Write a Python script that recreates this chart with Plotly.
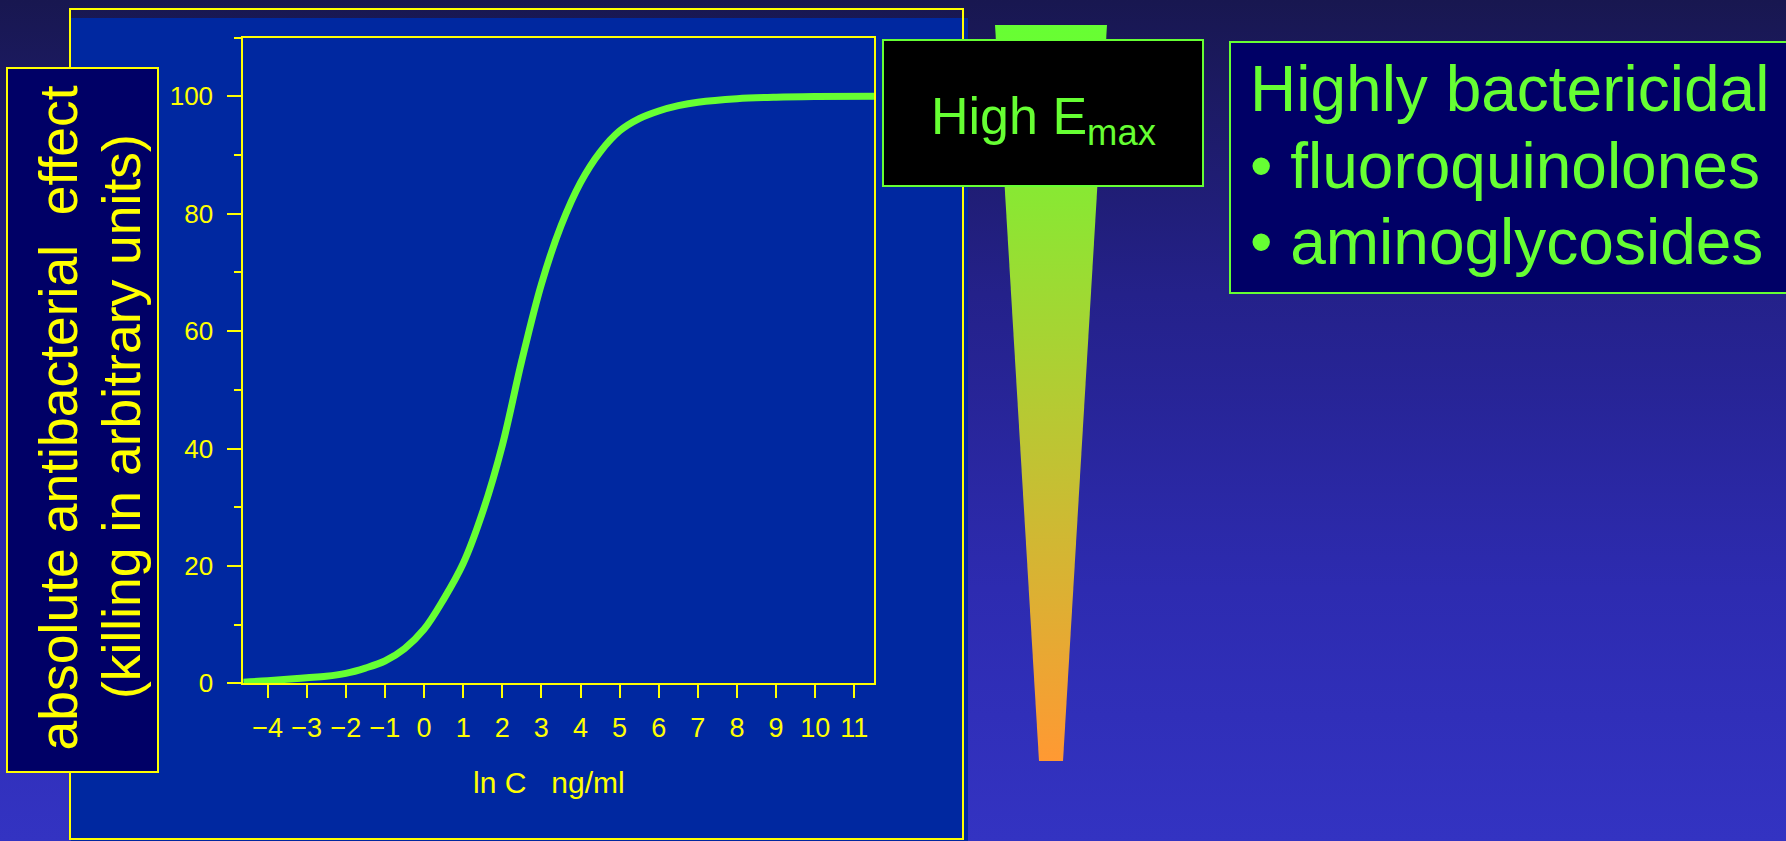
import base64
import plotly.graph_objects as go

# Concentration-effect curve: ln of concentration vs. killing effect
ln_conc = [-4.62, -4.0, -3.5, -3.0, -2.5, -2.0, -1.5, -1.0, -0.5, 0.0, 0.5, 1.0,
           1.5, 2.0, 2.5, 3.0, 3.5, 4.0, 4.5, 5.0, 5.5, 6.0, 6.5, 7.0, 8.0,
           9.0, 10.0, 11.51]
effect = [0.2, 0.45, 0.7, 0.95, 1.2, 1.7, 2.6, 3.8, 5.9, 9.2, 14.3, 20.4,
          29.2, 40.5, 55.0, 68.0, 77.9, 85.3, 90.5, 94.1, 96.2, 97.5, 98.4, 99.0, 99.6,
          99.85, 99.95, 100.0]

x_ticks = list(range(-4, 12))
y_ticks = [0, 20, 40, 60, 80, 100]

y_title_lines = ["absolute antibacterial\u00a0 effect", "(killing in arbitrary units)"]
x_title = "ln C\u00a0\u00a0\u00a0ng/ml"
emax_label = "High E<sub>max</sub>"
class_lines = ["Highly bactericidal", "\u2022 fluoroquinolones", "\u2022 aminoglycosides"]

W, H = 1786, 841
FONT = "Liberation Sans, Arial, sans-serif"
YELLOW = "#ffff00"
GREEN = "#66ff33"
PANEL_BLUE = "#0028a0"
NAVY = "#000066"


def px(x):
    return x / W


def py(y):
    return 1 - y / H


# vertical page gradient used as the slide background
bg_svg = (
    f'<svg xmlns="http://www.w3.org/2000/svg" width="{W}" height="{H}" '
    f'viewBox="0 0 {W} {H}" preserveAspectRatio="none">'
    '<defs><linearGradient id="g" x1="0" y1="0" x2="0" y2="1">'
    '<stop offset="0" stop-color="#181750"/>'
    '<stop offset="0.35" stop-color="#24218a"/>'
    '<stop offset="0.7" stop-color="#2d2bb0"/>'
    '<stop offset="1" stop-color="#3333c2"/>'
    '</linearGradient></defs>'
    f'<rect x="0" y="0" width="{W}" height="{H}" fill="url(#g)"/></svg>'
)
bg_uri = "data:image/svg+xml;base64," + base64.b64encode(bg_svg.encode()).decode()

fig = go.Figure()

# main curve
fig.add_trace(go.Scatter(
    x=ln_conc, y=effect, mode="lines",
    line=dict(color=GREEN, width=7, shape="spline", smoothing=1.0),
    hoverinfo="skip", showlegend=False, xaxis="x", yaxis="y",
))

# tapered colour wedge (green at the top fading to orange at the tip)
wedge_x = [995, 1107, 1063, 1039, 995]
wedge_y = [25, 25, 761, 761, 25]
fig.add_trace(go.Scatter(
    x=wedge_x, y=wedge_y, mode="lines", fill="toself",
    line=dict(width=0, color="rgba(0,0,0,0)"),
    fillgradient=dict(type="vertical", start=25, stop=761,
                      colorscale=[[0, GREEN], [1, "#ff9933"]]),
    hoverinfo="skip", showlegend=False, xaxis="x2", yaxis="y2",
))

shapes = [
    # outer panel: blue fill slightly offset from its yellow frame
    dict(type="rect", xref="paper", yref="paper", layer="below",
         x0=px(71), x1=px(968), y0=py(18), y1=py(841),
         fillcolor=PANEL_BLUE, line=dict(width=0)),
    dict(type="rect", xref="paper", yref="paper", layer="below",
         x0=px(70), x1=px(963), y0=py(9), y1=py(839),
         fillcolor="rgba(0,0,0,0)", line=dict(color=YELLOW, width=2)),
    # y title box
    dict(type="rect", xref="paper", yref="paper", layer="below",
         x0=px(7), x1=px(158), y0=py(68), y1=py(772),
         fillcolor=NAVY, line=dict(color=YELLOW, width=2)),
    # drug class box
    dict(type="rect", xref="paper", yref="paper", layer="below",
         x0=px(1230), x1=px(1795), y0=py(42), y1=py(293),
         fillcolor=NAVY, line=dict(color=GREEN, width=2)),
    # Emax label box, over the wedge
    dict(type="rect", xref="paper", yref="paper", layer="above",
         x0=px(883), x1=px(1203), y0=py(40), y1=py(186),
         fillcolor="#000000", line=dict(color=GREEN, width=2)),
]

annotations = [
    dict(text=y_title_lines[0], x=px(57.5), y=py(418), textangle=-90,
         font=dict(family=FONT, size=53.5, color=YELLOW)),
    dict(text=y_title_lines[1], x=px(121), y=py(417), textangle=-90,
         font=dict(family=FONT, size=53.5, color=YELLOW)),
    dict(text=emax_label, x=px(1043), y=py(120),
         font=dict(family=FONT, size=52, color=GREEN)),
    # x axis title, centred slightly left of the plot centre
    dict(text=x_title, x=px(549), y=py(782),
         font=dict(family=FONT, size=30, color=YELLOW)),
]
for line, yc in zip(class_lines, [89.5, 165.5, 242.5]):
    annotations.append(dict(text=line, x=px(1247.5), y=py(yc), xanchor="left",
                            font=dict(family=FONT, size=64, color=GREEN)))
for a in annotations:
    a.update(xref="paper", yref="paper", showarrow=False)
    a.setdefault("xanchor", "center")
    a.setdefault("yanchor", "middle")

fig.update_layout(
    width=W, height=H, autosize=False,
    margin=dict(l=0, r=0, t=0, b=0, pad=0, autoexpand=False),
    paper_bgcolor="#181750",
    plot_bgcolor="rgba(0,0,0,0)",
    showlegend=False,
    images=[dict(source=bg_uri, xref="paper", yref="paper", x=0, y=1,
                 sizex=1, sizey=1, xanchor="left", yanchor="top",
                 sizing="stretch", layer="below")],
    shapes=shapes,
    annotations=annotations,
    xaxis=dict(
        domain=[px(243.3), px(874.3)], range=[-4.62, 11.51], anchor="y",
        tickmode="array", tickvals=x_ticks, automargin=False,
        ticks="outside", ticklen=13, tickwidth=2, tickcolor=YELLOW,
        showline=True, linecolor=YELLOW, linewidth=2, mirror=True,
        showgrid=False, zeroline=False, ticklabelstandoff=6,
        tickfont=dict(family=FONT, size=27, color=YELLOW),
        fixedrange=True,
    ),
    yaxis=dict(
        domain=[py(683.3), py(37.6)], range=[0, 110], anchor="x",
        tickmode="array", tickvals=y_ticks, automargin=False,
        ticks="outside", ticklen=14, tickwidth=2, tickcolor=YELLOW,
        minor=dict(dtick=10, tick0=0, ticks="outside", ticklen=7,
                   tickwidth=2, tickcolor=YELLOW),
        showline=True, linecolor=YELLOW, linewidth=2, mirror=True,
        showgrid=False, zeroline=False, ticklabelstandoff=9,
        tickfont=dict(family=FONT, size=26, color=YELLOW),
        fixedrange=True,
    ),
    xaxis2=dict(domain=[0, 1], range=[0, W], anchor="y2", visible=False,
                automargin=False, fixedrange=True),
    yaxis2=dict(domain=[0, 1], range=[H, 0], anchor="x2", visible=False,
                automargin=False, fixedrange=True),
)

fig.write_html("out.html", config={"displayModeBar": False})
